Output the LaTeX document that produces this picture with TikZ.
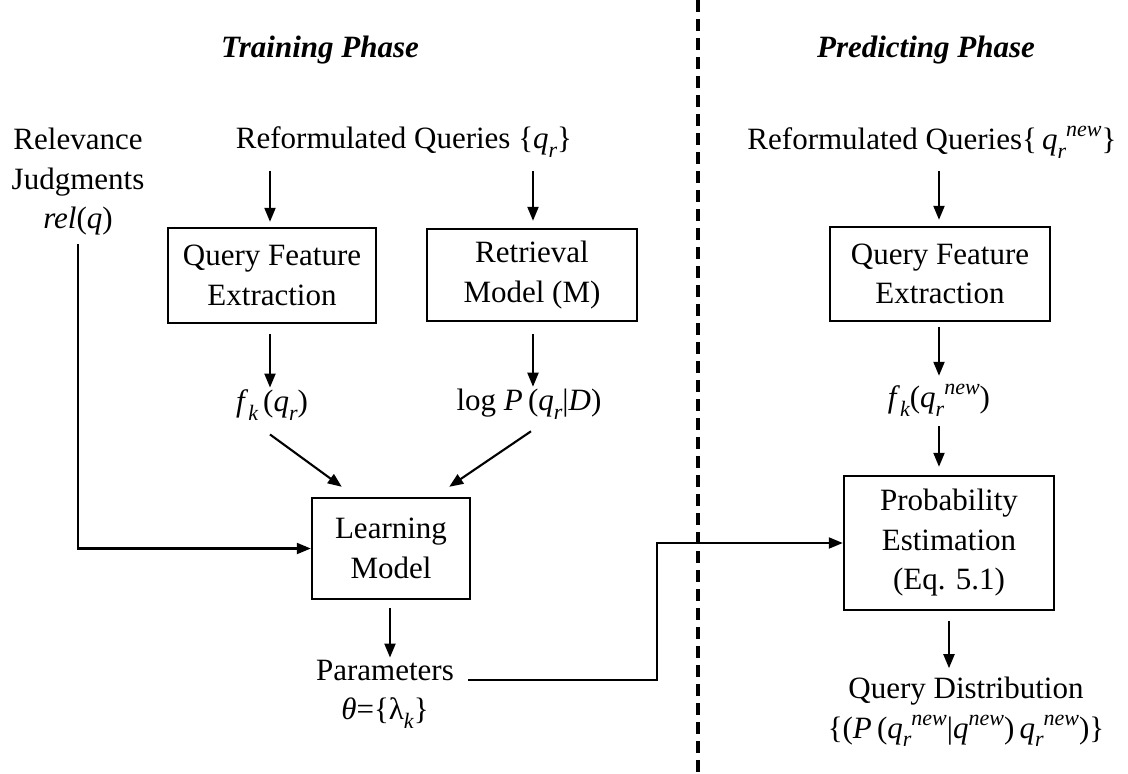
\documentclass[tikz,border=0pt]{standalone}
\usepackage{fontspec}
\setmainfont{Liberation Serif}
\usetikzlibrary{arrows.meta,calc}
\newcommand{\lo}[1]{\raisebox{-0.28em}{\fontsize{22}{22}\selectfont\itshape #1}}
\newcommand{\hi}[1]{\raisebox{0.42em}{\fontsize{22}{22}\selectfont\itshape #1}}
\begin{document}
\begin{tikzpicture}[x=1pt,y=-1pt,
  txt/.style={font=\fontsize{31}{39.5}\selectfont, align=center, inner sep=0pt},
  box/.style={txt, draw, line width=2.4pt},
  arr/.style={line width=2.1pt, -{Triangle[length=14pt,width=11pt]}},
  ttl/.style={font=\fontsize{31}{39.5}\selectfont\bfseries\itshape, inner sep=0pt}]
\useasboundingbox (0,0) rectangle (1128,774);

% titles
\node[ttl] (t1) at (320,50) {Training Phase};
\node[ttl] (t2) at (926,50) {Predicting Phase};

% divider
\coordinate (dtop) at (698,0);
\coordinate (dbot) at (698,774);
\draw[line width=3.8pt, dash pattern=on 12pt off 7pt] (dtop) -- (dbot);

% left side
\node[txt] (rel) at (78,182) {Relevance\\Judgments\\\textit{rel}(\textit{q})};
\node[txt] (rq) at (404,142) {Reformulated Queries \{\textit{q}\lo{r}\}};
\node[box, minimum width=208pt, minimum height=95pt] (qfe) at (272,275.5) {Query Feature\\Extraction};
\node[box, minimum width=210pt, minimum height=92pt] (ret) at (532,275) {Retrieval\\Model (M)};
\node[txt] (fk) at (272,405) {\textit{f}\lo{k}\,(\textit{q}\lo{r})};
\node[txt] (logp) at (529,404) {log \textit{P}\,(\textit{q}\lo{r}|\textit{D})};
\node[box, minimum width=158pt, minimum height=101pt] (lm) at (391,548.5) {Learning\\Model};
\node[txt] (param) at (385,694) {Parameters\\\textit{θ}=\{λ\lo{k}\}};

% right side
\node[txt] (rq2) at (932,142) {Reformulated Queries\{\,\textit{q}\lo{r}\hi{new}\}};
\node[box, minimum width=220pt, minimum height=94pt] (qfe2) at (940,274) {Query Feature\\Extraction};
\node[txt] (fk2) at (939,400) {\textit{f}\lo{k}(\textit{q}\lo{r}\hi{new})};
\node[box, minimum width=210pt, minimum height=134pt] (pe) at (949,543) {Probability\\Estimation\\(Eq. 5.1)};
\node[txt] (qd) at (966,712) {Query Distribution\\\{(\textit{P}\,(\textit{q}\lo{r}\hi{new}|\textit{q}\hi{new})\,\textit{q}\lo{r}\hi{new})\}};

% connectors (left)
\draw[arr] ($(qfe.north)+(-2,-56)$) -- ($(qfe.north)+(-2,-5)$);
\draw[arr] ($(ret.north)+(1,-57)$) -- ($(ret.north)+(1,-7)$);
\draw[arr] ($(qfe.south)+(-2,10)$) -- ($(fk.north)+(-2,-2)$);
\draw[arr] ($(ret.south)+(1,12)$) -- ($(logp.north)+(4,-2)$);
\draw[arr] ($(fk.south)+(-2,14)$) -- ($(lm.north west)+(31,-10)$);
\draw[arr] ($(logp.south)+(2,12)$) -- ($(lm.north east)+(-22,-10)$);
\draw[arr] ($(rel.south)+(0,8)$) |- (lm.west);
\draw[arr] ($(lm.south)+(-1,8)$) -- ($(param.north)+(5,-2)$);
\coordinate (pstart) at (468,680);
\draw[arr] (pstart) -- (657,680) |- (pe.west);

% connectors (right)
\draw[arr] ($(qfe2.north)+(-1,-55)$) -- ($(qfe2.north)+(-1,-6)$);
\draw[arr] ($(qfe2.south)+(-1,5)$) -- ($(fk2.north)+(0,-8)$);
\draw[arr] ($(fk2.south)+(0,10)$) -- ($(pe.north)+(-10,-8)$);
\draw[arr] ($(pe.south)+(0,10)$) -- ($(pe.south)+(0,57)$);
\end{tikzpicture}
\end{document}
